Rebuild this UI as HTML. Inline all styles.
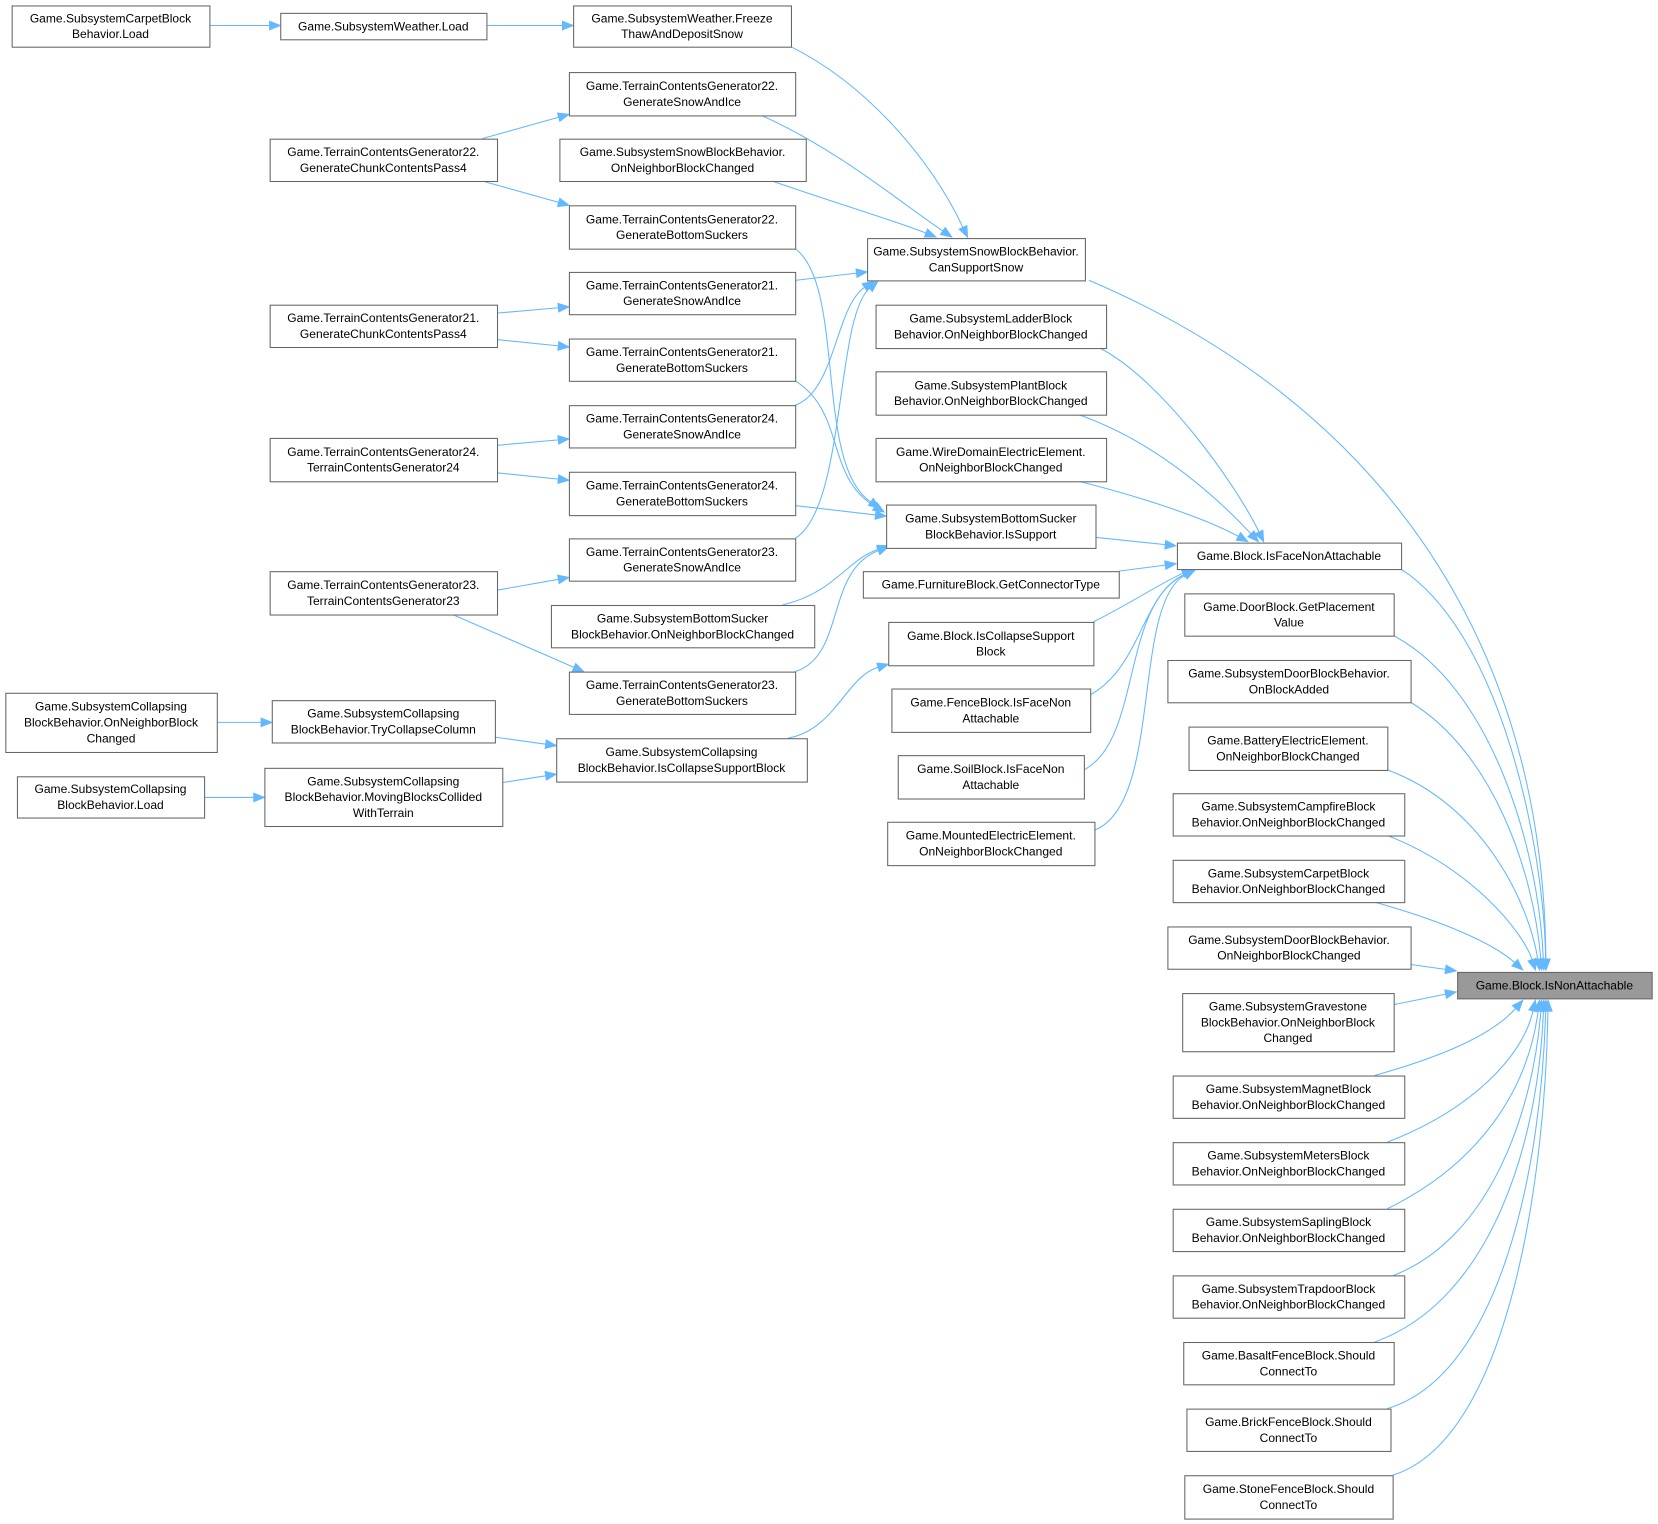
<!DOCTYPE html>
<html><head><meta charset="utf-8"><style>
html,body{margin:0;padding:0;background:#fff;}
svg{display:block;}
text{font-family:"Liberation Sans",Arial,sans-serif;font-size:11.4px;fill:#000;}
</style></head><body>
<svg id="s" width="1658" height="1524" viewBox="0 0 1568 1441" xmlns="http://www.w3.org/2000/svg"></svg>
<script>
const N=[
[11,5,198,44,["Game.SubsystemCarpetBlock","Behavior.Load"]],
[265,12,460,37,["Game.SubsystemWeather.Load"]],
[542,5,748,44,["Game.SubsystemWeather.Freeze","ThawAndDepositSnow"]],
[538,68,752,109,["Game.TerrainContentsGenerator22.","GenerateSnowAndIce"]],
[255,131,470,171,["Game.TerrainContentsGenerator22.","GenerateChunkContentsPass4"]],
[529,131,762,171,["Game.SubsystemSnowBlockBehavior.","OnNeighborBlockChanged"]],
[538,194,752,235,["Game.TerrainContentsGenerator22.","GenerateBottomSuckers"]],
[820,225,1026,265,["Game.SubsystemSnowBlockBehavior.","CanSupportSnow"]],
[538,257,752,297,["Game.TerrainContentsGenerator21.","GenerateSnowAndIce"]],
[255,288,470,328,["Game.TerrainContentsGenerator21.","GenerateChunkContentsPass4"]],
[538,320,752,360,["Game.TerrainContentsGenerator21.","GenerateBottomSuckers"]],
[538,383,752,423,["Game.TerrainContentsGenerator24.","GenerateSnowAndIce"]],
[255,414,470,455,["Game.TerrainContentsGenerator24.","TerrainContentsGenerator24"]],
[538,446,752,487,["Game.TerrainContentsGenerator24.","GenerateBottomSuckers"]],
[838,477,1036,518,["Game.SubsystemBottomSucker","BlockBehavior.IsSupport"]],
[538,509,752,549,["Game.TerrainContentsGenerator23.","GenerateSnowAndIce"]],
[255,540,470,581,["Game.TerrainContentsGenerator23.","TerrainContentsGenerator23"]],
[521,572,770,612,["Game.SubsystemBottomSucker","BlockBehavior.OnNeighborBlockChanged"]],
[538,635,752,675,["Game.TerrainContentsGenerator23.","GenerateBottomSuckers"]],
[5,655,205,711,["Game.SubsystemCollapsing","BlockBehavior.OnNeighborBlock","Changed"]],
[257,662,468,702,["Game.SubsystemCollapsing","BlockBehavior.TryCollapseColumn"]],
[526,698,763,739,["Game.SubsystemCollapsing","BlockBehavior.IsCollapseSupportBlock"]],
[16,734,193,773,["Game.SubsystemCollapsing","BlockBehavior.Load"]],
[250,726,475,781,["Game.SubsystemCollapsing","BlockBehavior.MovingBlocksCollided","WithTerrain"]],
[828,288,1046,329,["Game.SubsystemLadderBlock","Behavior.OnNeighborBlockChanged"]],
[828,351,1046,392,["Game.SubsystemPlantBlock","Behavior.OnNeighborBlockChanged"]],
[828,414,1046,455,["Game.WireDomainElectricElement.","OnNeighborBlockChanged"]],
[816,540,1058,565,["Game.FurnitureBlock.GetConnectorType"]],
[840,588,1034,629,["Game.Block.IsCollapseSupport","Block"]],
[843,651,1031,692,["Game.FenceBlock.IsFaceNon","Attachable"]],
[849,714,1025,755,["Game.SoilBlock.IsFaceNon","Attachable"]],
[839,777,1035,818,["Game.MountedElectricElement.","OnNeighborBlockChanged"]],
[1113,513,1325,538,["Game.Block.IsFaceNonAttachable"]],
[1120,561,1318,601,["Game.DoorBlock.GetPlacement","Value"]],
[1104,624,1334,664,["Game.SubsystemDoorBlockBehavior.","OnBlockAdded"]],
[1124,687,1312,728,["Game.BatteryElectricElement.","OnNeighborBlockChanged"]],
[1109,750,1328,790,["Game.SubsystemCampfireBlock","Behavior.OnNeighborBlockChanged"]],
[1109,813,1328,853,["Game.SubsystemCarpetBlock","Behavior.OnNeighborBlockChanged"]],
[1104,876,1334,916,["Game.SubsystemDoorBlockBehavior.","OnNeighborBlockChanged"]],
[1118,939,1318,994,["Game.SubsystemGravestone","BlockBehavior.OnNeighborBlock","Changed"]],
[1109,1017,1328,1057,["Game.SubsystemMagnetBlock","Behavior.OnNeighborBlockChanged"]],
[1109,1080,1328,1120,["Game.SubsystemMetersBlock","Behavior.OnNeighborBlockChanged"]],
[1109,1143,1328,1183,["Game.SubsystemSaplingBlock","Behavior.OnNeighborBlockChanged"]],
[1109,1206,1328,1246,["Game.SubsystemTrapdoorBlock","Behavior.OnNeighborBlockChanged"]],
[1119,1269,1318,1309,["Game.BasaltFenceBlock.Should","ConnectTo"]],
[1122,1332,1315,1372,["Game.BrickFenceBlock.Should","ConnectTo"]],
[1120,1395,1317,1436,["Game.StoneFenceBlock.Should","ConnectTo"]],
[1378,919,1562,944,["Game.Block.IsNonAttachable"],1]
];
function L(a,b,c,d){return [a,b,(a*2+c)/3,(b*2+d)/3,(a+c*2)/3,(b+d*2)/3,c,d];}
const E=[
L(198,24,265,24),L(460,24,542,24),L(456,131,538,108),L(456,171,538,194),
L(470,296,538,290),L(470,321,538,328),L(470,421,538,415),L(470,447,538,454),
L(470,558,538,546),L(428,581,552,635),L(205,683,257,683),L(193,754,250,754),
L(468,697,526,705),L(475,740,526,732),
[748,44,820,80,880,150,915,224],[720,109,790,140,850,190,900,224],[730,171,800,195,850,210,885,224],
L(752,265,820,257),[752,383,790,370,790,290,826,266],[752,509,800,480,790,300,830,266],
[752,235,800,270,770,440,832,480],[752,360,800,390,780,450,836,484],L(752,478,838,488),
[740,572,790,560,800,530,840,516],[752,635,800,620,780,540,840,517],[745,698,790,690,800,640,840,628],
[1040,329,1100,360,1170,460,1195,512],[1020,392,1100,420,1160,480,1190,512],[1020,455,1080,470,1140,490,1180,512],
L(1036,508,1112,516),L(1058,540,1112,533),
[1034,588,1070,570,1100,550,1128,538],[1031,657,1080,630,1080,560,1130,539],[1025,728,1080,700,1060,570,1130,539],[1035,785,1100,760,1070,570,1130,539],
[1030,265,1300,380,1460,600,1462,917],[1325,538,1420,600,1460,800,1462,917],[1318,601,1410,650,1455,800,1460,917],
[1334,664,1410,710,1450,820,1458,917],[1312,728,1400,760,1445,850,1456,917],[1312,790,1390,820,1440,880,1452,917],
[1300,853,1360,870,1410,890,1440,917],L(1334,912,1377,918),L(1318,950,1377,938),
[1300,1017,1360,1000,1410,980,1440,946],[1312,1080,1390,1050,1440,1000,1452,946],[1312,1143,1400,1100,1445,1030,1456,946],
[1318,1206,1410,1170,1450,1050,1458,946],[1300,1269,1410,1230,1455,1080,1460,946],[1312,1332,1420,1300,1458,1100,1462,946],
[1317,1395,1430,1360,1462,1100,1464,946]
];
let h='';
for(const e of E){
 let [a,b,c,d,f,g,x,y]=e;
 let dx=x-f,dy=y-g,l=Math.hypot(dx,dy)||1;dx/=l;dy/=l;
 let bx=x-dx*10,by=y-dy*10;
 h+=`<path d="M${a},${b} C${c},${d} ${f},${g} ${bx},${by}" fill="none" stroke="#63b8ff" stroke-width="1"/>`;
 h+=`<polygon points="${x},${y} ${bx-dy*4},${by+dx*4} ${bx+dy*4},${by-dx*4}" fill="#63b8ff" stroke="#63b8ff"/>`;
}
for(const n of N){
 let [x1,y1,x2,y2,t,g]=n;
 h+=`<rect x="${x1+.5}" y="${y1+.5}" width="${x2-x1}" height="${y2-y1}" fill="${g?'#999':'#fff'}" stroke="#666"/>`;
 let cx=(x1+x2)/2,cy=(y1+y2)/2,k=t.length;
 t.forEach((s,i)=>{h+=`<text x="${cx}" y="${cy+(i-(k-1)/2)*15+4}" text-anchor="middle">${s}</text>`;});
}
document.getElementById('s').innerHTML=h;
</script>
</body></html>
